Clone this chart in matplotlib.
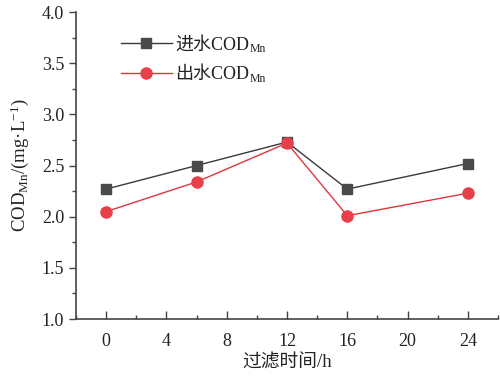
import matplotlib
matplotlib.use('Agg')
import matplotlib.pyplot as plt
from matplotlib.ticker import MultipleLocator

plt.rcParams['font.family'] = ['Liberation Serif', 'Noto Sans CJK SC']
plt.rcParams['mathtext.fontset'] = 'custom'
plt.rcParams['mathtext.rm'] = 'Liberation Serif'
plt.rcParams['mathtext.it'] = 'Liberation Serif:italic'

# 数据（过滤时间 h，COD_Mn mg/L）
hours = [0, 6, 12, 16, 24]
cod_in = [2.27, 2.50, 2.73, 2.27, 2.52]
cod_out = [2.05, 2.34, 2.72, 2.01, 2.23]
x_ticks = [0, 4, 8, 12, 16, 20, 24]
y_ticks = [1.0, 1.5, 2.0, 2.5, 3.0, 3.5, 4.0]
labels = ['进水COD', '出水COD']
sub = 'Mn'

fig = plt.figure(figsize=(5.0, 3.78), dpi=100)
ax = fig.add_axes([0.152, 0.156, 0.844, 0.812])

ax.plot(hours, cod_in, color='#3a3a3a', lw=1.0, marker='s', ms=7.5,
        mfc='#4a4a4a', mec='#4a4a4a', label=labels[0])
ax.plot(hours, cod_out, color='#e0353c', lw=1.0, marker='o', ms=8,
        mfc='#e8404a', mec='#e8404a', label=labels[1])

ax.set_xlim(-2, 26)
ax.set_ylim(1.0, 4.0)
ax.set_xticks(x_ticks)
ax.set_yticks(y_ticks)
ax.set_yticklabels([f'{v:.1f}' for v in y_ticks])
ax.xaxis.set_minor_locator(MultipleLocator(2))
ax.yaxis.set_minor_locator(MultipleLocator(0.25))

for s in ['top', 'right']:
    ax.spines[s].set_visible(False)
for s in ['left', 'bottom']:
    ax.spines[s].set_color('#444444')
    ax.spines[s].set_linewidth(1.2)

ax.tick_params(axis='x', which='major', direction='in', length=6, width=1.0,
               colors='#444444', labelcolor='#222222', labelsize=13, pad=10)
ax.tick_params(axis='x', which='minor', direction='in', length=3, width=1.0,
               colors='#444444')
ax.tick_params(axis='y', which='major', direction='out', length=5, width=1.0,
               colors='#444444', labelcolor='#222222', labelsize=13)
ax.tick_params(axis='y', which='minor', direction='out', length=3, width=1.0,
               colors='#444444')

ax.set_xlabel('过滤时间/h', fontsize=13.5, color='#222222', labelpad=3)
ax.set_ylabel('COD$_{\\mathrm{Mn}}$/(mg·L$^{-1}$)', fontsize=13.5,
              color='#222222', labelpad=8)

leg = ax.legend(loc='upper left', bbox_to_anchor=(0.09, 0.945), frameon=False,
                fontsize=13, handlelength=2.8, handletextpad=0.2,
                labelspacing=0.72, borderaxespad=0.0)
for t in leg.get_texts():
    t.set_color('#222222')

# 下标 Mn 贴在图例文字后面
fig.canvas.draw()
for t in leg.get_texts():
    bb = t.get_window_extent()
    fig.text(bb.x1 + 0.5, bb.y0 + 1, sub, fontsize=8.5, color='#222222',
             transform=None, ha='left', va='baseline')

fig.savefig('out.png', dpi=100)
